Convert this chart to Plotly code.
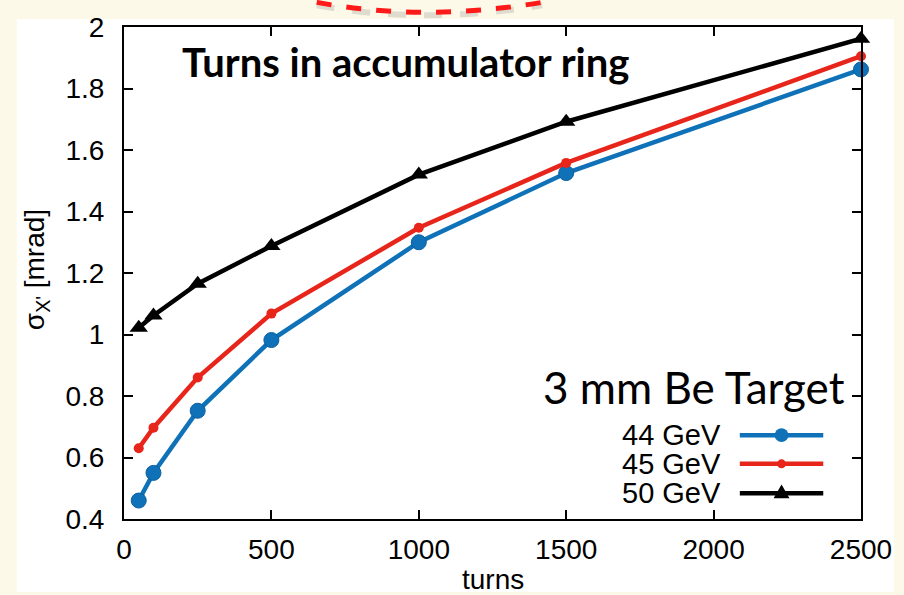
import plotly.graph_objects as go

# ---- data ----
turns = [50, 100, 250, 500, 1000, 1500, 2500]
sig_44 = [0.46, 0.55, 0.752, 0.982, 1.30, 1.525, 1.862]
sig_45 = [0.63, 0.697, 0.86, 1.068, 1.347, 1.558, 1.905]
sig_50 = [1.022, 1.062, 1.165, 1.288, 1.52, 1.692, 1.962]
series_names = ["44 GeV", "45 GeV", "50 GeV"]
x_ticks = [0, 500, 1000, 1500, 2000, 2500]
y_ticks = [0.4, 0.6, 0.8, 1.0, 1.2, 1.4, 1.6, 1.8, 2.0]
y_ticklabels = ["0.4", "0.6", "0.8", "1", "1.2", "1.4", "1.6", "1.8", "2"]

BLUE = "#0f72b8"
RED = "#e8251b"
BLACK = "#000000"
CREAM = "#fdf9e8"
FONT = "Liberation Sans, Arial"

W, H = 904, 595
L, R, T, B = 124, 38, 20, 76
PW, PH = W - L - R, H - T - B


def px(x):
    return (x - L) / PW


def py(y):
    return (H - B - y) / PH


fig = go.Figure()
fig.add_trace(go.Scatter(x=turns, y=sig_44, mode="lines+markers", name=series_names[0],
                         line=dict(color=BLUE, width=4.5),
                         marker=dict(symbol="circle", size=15, color=BLUE,
                                     line=dict(color="#0b5f9c", width=1)),
                         showlegend=False, cliponaxis=False))
fig.add_trace(go.Scatter(x=turns, y=sig_45, mode="lines+markers", name=series_names[1],
                         line=dict(color=RED, width=4.5),
                         marker=dict(symbol="circle", size=10, color=RED),
                         showlegend=False, cliponaxis=False))
fig.add_trace(go.Scatter(x=turns, y=sig_50, mode="lines+markers", name=series_names[2],
                         line=dict(color=BLACK, width=4.5),
                         marker=dict(symbol="triangle-up", size=16, color=BLACK),
                         showlegend=False, cliponaxis=False))

shapes = []
# white inner panel over cream border
shapes.append(dict(type="rect", xref="paper", yref="paper", layer="below",
                   x0=px(16), x1=px(899), y0=py(593), y1=py(12),
                   fillcolor="white", line=dict(width=0)))
# decorative red dashed arc at top (with faint shadow)
shapes.append(dict(type="path", xref="paper", yref="paper",
                   path=f"M {px(318)},{py(-2)} Q {px(425)},{py(18)} {px(545)},{py(-2)}",
                   line=dict(color="rgba(120,120,120,0.22)", width=6, dash="dash")))
shapes.append(dict(type="path", xref="paper", yref="paper",
                   path=f"M {px(318)},{py(-5)} Q {px(425)},{py(15)} {px(545)},{py(-5)}",
                   line=dict(color="#ff1a1a", width=5, dash="dash")))

# manual legend (text left, sample right)
leg_y = [434, 463, 493]
leg_cols = [BLUE, RED, BLACK]
annotations = []
for name, yy, col, i in zip(series_names, leg_y, leg_cols, range(3)):
    annotations.append(dict(text=name, xref="paper", yref="paper", x=px(727), y=py(yy),
                            xanchor="right", yanchor="middle", showarrow=False,
                            font=dict(family=FONT, size=29, color="black")))
    shapes.append(dict(type="line", xref="paper", yref="paper",
                       x0=px(744), x1=px(828), y0=py(yy), y1=py(yy),
                       line=dict(color=col, width=4.5)))
    if i == 0:
        r = 7
        shapes.append(dict(type="circle", xref="paper", yref="paper",
                           x0=px(786 - r), x1=px(786 + r), y0=py(yy + r), y1=py(yy - r),
                           fillcolor=BLUE, line=dict(color=BLUE, width=0)))
    elif i == 1:
        r = 4.5
        shapes.append(dict(type="circle", xref="paper", yref="paper",
                           x0=px(786 - r), x1=px(786 + r), y0=py(yy + r), y1=py(yy - r),
                           fillcolor=RED, line=dict(color=RED, width=0)))
    else:
        shapes.append(dict(type="path", xref="paper", yref="paper",
                           path=f"M {px(778)},{py(yy + 5)} L {px(794)},{py(yy + 5)} L {px(786)},{py(yy - 9)} Z",
                           fillcolor=BLACK, line=dict(color=BLACK, width=0)))

annotations.append(dict(text="<b>Turns in accumulator ring</b>", xref="paper", yref="paper",
                        x=px(180), y=py(56), xanchor="left", yanchor="middle", showarrow=False,
                        font=dict(family="Lato", size=40, color="black")))
annotations.append(dict(text="3 mm Be Target", xref="paper", yref="paper",
                        x=px(852), y=py(385), xanchor="right", yanchor="middle", showarrow=False,
                        font=dict(family="Lato", size=44, color="black")))
# axis titles
annotations.append(dict(text="turns", xref="paper", yref="paper",
                        x=px(495), y=py(580), xanchor="center", yanchor="middle", showarrow=False,
                        font=dict(family=FONT, size=28, color="black")))
annotations.append(dict(text="σ<sub>X'</sub> [mrad]", xref="paper", yref="paper",
                        x=px(36), y=py(266), xanchor="center", yanchor="middle", showarrow=False,
                        textangle=-90, font=dict(family=FONT, size=28, color="black")))

axis_font = dict(family=FONT, size=28, color="black")
fig.update_layout(
    width=W, height=H,
    margin=dict(l=L, r=R, t=T, b=B, pad=0),
    paper_bgcolor=CREAM, plot_bgcolor="white",
    shapes=shapes, annotations=annotations,
    xaxis=dict(range=[0, 2500], tickvals=x_ticks, ticks="inside", ticklen=9, tickwidth=1.5,
               tickcolor="black", showline=True, linecolor="black", linewidth=2, mirror="ticks",
               showgrid=False, zeroline=False, tickfont=axis_font, ticklabelstandoff=4),
    yaxis=dict(range=[0.4, 2.0], tickvals=y_ticks, ticktext=y_ticklabels, ticks="inside", ticklen=9,
               tickwidth=1.5, tickcolor="black", showline=True, linecolor="black", linewidth=2,
               mirror="ticks", showgrid=False, zeroline=False, tickfont=axis_font,
               ticklabelstandoff=12),
)

fig.write_html("out.html")
